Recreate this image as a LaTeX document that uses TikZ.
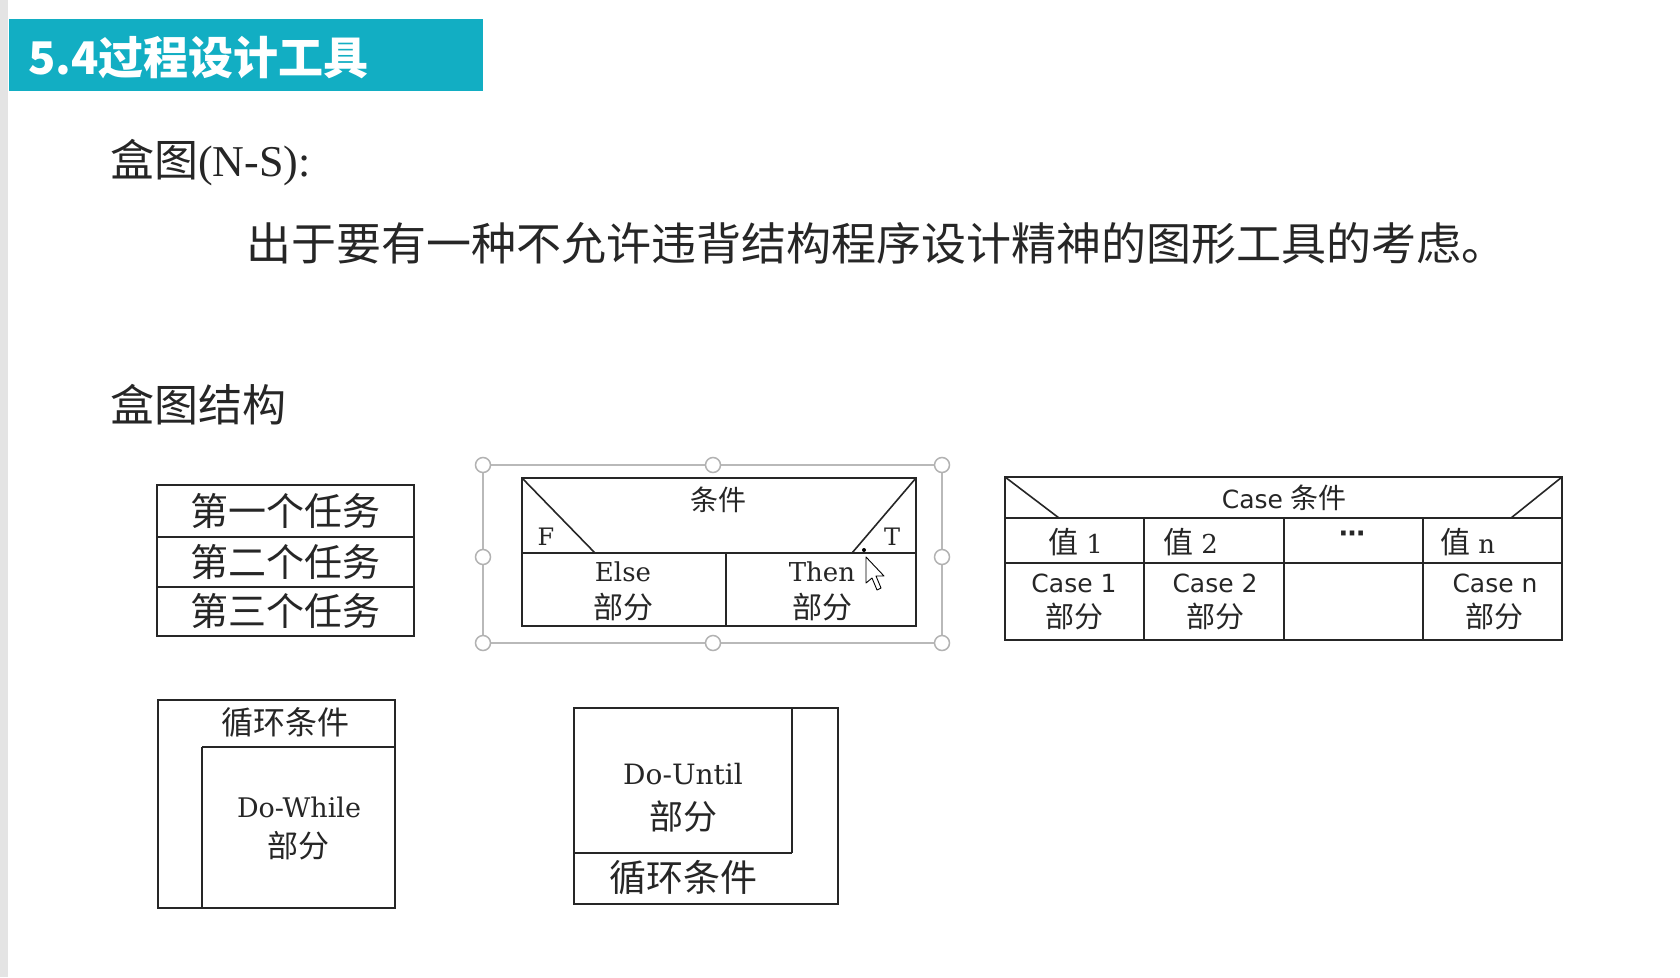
\documentclass[tikz,border=0pt]{standalone}
\usepackage{fontspec}
\setmainfont{Liberation Serif}
\newfontfamily\cjk{Noto Sans CJK SC}
\newfontfamily\dserif{DejaVu Serif}
\newfontfamily\dsans{DejaVu Sans}
\definecolor{barteal}{HTML}{12AEC3}
\definecolor{ink}{HTML}{262626}
\definecolor{strip}{HTML}{E4E4E4}
\newcommand{\fs}[1]{\fontsize{#1}{#1}\selectfont}
\tikzset{
  box/.style={draw=ink, line width=2pt},
  lbl/.style={text=ink, inner sep=0pt, align=center},
  selframe/.style={draw=gray!55, line width=1.4pt},
  handle/.style={circle, draw=gray!60, fill=white, line width=1.5pt, minimum size=15pt, inner sep=0pt},
}
\begin{document}
\begin{tikzpicture}[x=1pt,y=-1pt]
\useasboundingbox (0,0) rectangle (1680,977);
\fill[white] (0,0) rectangle (1680,977);
\fill[strip] (0,0) rectangle (8,977);

% title bar
\fill[barteal] (9,19) rectangle (483,91);
\node[anchor=west, text=white, inner sep=0pt, font=\cjk\bfseries\fs{45}] (title) at (28,58) {5.4过程设计工具};

% headings
\node[anchor=west, lbl, font=\fs{44}] (ns) at (110,163) {{\cjk 盒图}(N-S):};
\node[anchor=west, lbl, font=\cjk\fs{45}] (why) at (246,243) {出于要有一种不允许违背结构程序设计精神的图形工具的考虑。};
\node[anchor=west, lbl, font=\cjk\fs{44}] (struct) at (110,405) {盒图结构};

% sequence box
\draw[box] (157,485) rectangle (414,636);
\draw[box] (157,537) -- (414,537);
\draw[box] (157,587) -- (414,587);
\node[lbl, font=\cjk\fs{38}] (t1) at (285,511) {第一个任务};
\node[lbl, font=\cjk\fs{38}] (t2) at (285,562) {第二个任务};
\node[lbl, font=\cjk\fs{38}] (t3) at (285,611) {第三个任务};

% if-then-else box with its selection frame
\draw[selframe] (483,465) rectangle (942,643);
\foreach \hx/\hy [count=\i] in {483/465,713/465,942/465,483/557,942/557,483/643,713/643,942/643}
  \node[handle] (h\i) at (\hx,\hy) {};
\draw[box] (522,478) rectangle (916,626);
\draw[box] (522,553) -- (916,553);
\draw[box] (726,553) -- (726,626);
\draw[box, line width=1.6pt] (522,478) -- (595,553);
\draw[box, line width=1.6pt] (916,478) -- (852,553);
\node[lbl, font=\cjk\fs{28}] (cond) at (718,500) {条件};
\node[lbl, font=\dserif\fs{24}] (f) at (546,537) {F};
\node[lbl, font=\dserif\fs{24}] (t) at (892,537) {T};
\node[lbl, font=\dserif\fs{26}] (else) at (623,572) {Else};
\node[lbl, font=\cjk\fs{30}] (elsep) at (623,607) {部分};
\node[lbl, font=\dserif\fs{26}] (then) at (822,572) {Then};
\node[lbl, font=\cjk\fs{30}] (thenp) at (822,607) {部分};
% mouse pointer
\draw[black, line width=0.9pt, fill=white, line join=round]
  (866,557) -- (866,583) -- (872,578) -- (877,590) -- (881,588) -- (876,576) -- (884,576) -- cycle;
\fill[black] (864,550) circle (2pt);

% case box
\draw[box] (1005,477) rectangle (1562,640);
\draw[box] (1005,518) -- (1562,518);
\draw[box] (1005,563) -- (1562,563);
\foreach \cx in {1144,1284,1423} \draw[box] (\cx,518) -- (\cx,640);
\draw[box, line width=1.6pt] (1005,477) -- (1059,518);
\draw[box, line width=1.6pt] (1562,477) -- (1511,518);
\node[lbl, font=\fs{28}] (casec) at (1284,498) {{\dsans\fs{25}Case} {\cjk 条件}};
\node[lbl, font=\fs{30}] (v1) at (1076,542) {{\cjk 值} {\dserif\fs{26}1}};
\node[lbl, font=\fs{30}] (v2) at (1191,542) {{\cjk 值} {\dserif\fs{26}2}};
\node[lbl, font=\dsans\bfseries\fs{26}] (vd) at (1352,537) {⋯};
\node[lbl, font=\fs{30}] (vn) at (1468,542) {{\cjk 值} {\dserif\fs{26}n}};
\node[lbl, font=\dsans\fs{25}] (c1) at (1074,583) {Case 1};
\node[lbl, font=\cjk\fs{29}] (p1) at (1074,616) {部分};
\node[lbl, font=\dsans\fs{25}] (c2) at (1215,583) {Case 2};
\node[lbl, font=\cjk\fs{29}] (p2) at (1215,616) {部分};
\node[lbl, font=\dsans\fs{25}] (cn) at (1495,583) {Case n};
\node[lbl, font=\cjk\fs{29}] (pn) at (1494,616) {部分};

% do-while box
\draw[box] (158,700) rectangle (395,908);
\draw[box] (202,747) -- (395,747);
\draw[box] (202,747) -- (202,908);
\node[lbl, font=\cjk\fs{32}] (wc) at (285,722) {循环条件};
\node[lbl, font=\dserif\fs{27}] (wb) at (299,807) {Do-While};
\node[lbl, font=\cjk\fs{31}] (wp) at (298,846) {部分};

% do-until box
\draw[box] (574,708) rectangle (838,904);
\draw[box] (792,708) -- (792,853);
\draw[box] (574,853) -- (792,853);
\node[lbl, font=\dserif\fs{28}] (ub) at (683,774) {Do-Until};
\node[lbl, font=\cjk\fs{34}] (up) at (683,817) {部分};
\node[lbl, font=\cjk\fs{37}] (uc) at (683,878) {循环条件};
\end{tikzpicture}
\end{document}
